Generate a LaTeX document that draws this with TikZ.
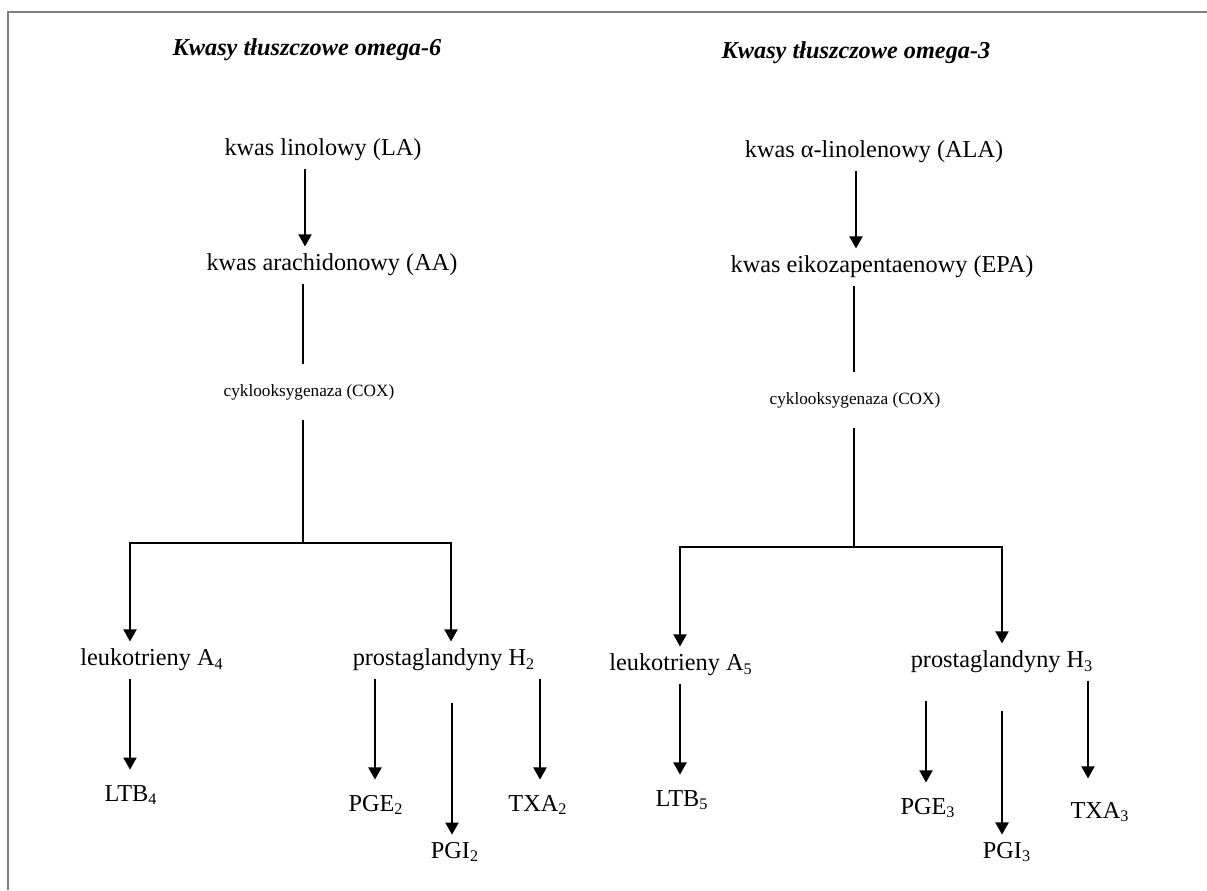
\documentclass[tikz,border=0pt]{standalone}
\usepackage{fontspec}
\setmainfont{Liberation Serif}
\usepackage{tikz}
\usetikzlibrary{arrows.meta, positioning}
\definecolor{framegray}{RGB}{128,128,128}

\begin{document}
\begin{tikzpicture}[
    x=0.494pt, y=-0.494pt,
    acid/.style={inner sep=3.5pt, font=\fontsize{12}{14}\selectfont},
    enzyme/.style={inner xsep=2pt, inner ysep=10pt, font=\fontsize{8.5}{10}\selectfont},
    family title/.style={inner sep=2pt, font=\fontsize{12}{14}\selectfont\bfseries\itshape},
    flow/.style={-{Triangle[length=6pt, width=6.5pt]}, line width=0.9pt},
    link/.style={line width=0.9pt},
    frame line/.style={framegray, line width=1.1pt}
]
    \useasboundingbox (0,0) rectangle (1207,890);
    \draw[frame line] (8,890) -- (8,12) -- (1207,12);

    % Omega-6
    \node[family title] (t6) at (307,50) {Kwasy tłuszczowe omega-6};
    \node[acid] (la) at (323,150) {kwas linolowy (LA)};
    \node[acid] (aa) at (332,265) {kwas arachidonowy (AA)};
    \node[enzyme] (cox6) at (309,392) {cyklooksygenaza (COX)};
    \node[acid] (lta4) at (152,660) {leukotrieny A\textsubscript{4}};
    \node[acid] (ph2) at (444,660) {prostaglandyny H\textsubscript{2}};
    \node[acid] (ltb4) at (131,795) {LTB\textsubscript{4}};
    \node[acid] (pge2) at (376,805) {PGE\textsubscript{2}};
    \node[acid] (pgi2) at (455,852) {PGI\textsubscript{2}};
    \node[acid] (txa2) at (538,805) {TXA\textsubscript{2}};

    \coordinate (axis6) at (305,0);
    \coordinate (fork6) at (303,543);
    \coordinate (lt6) at (130,0);
    \coordinate (pg6) at (451,0);

    \draw[flow] (la.south -| axis6) -- (aa.north -| axis6);
    \draw[link] (aa.south -| fork6) -- (cox6.north -| fork6);
    \draw[link] (cox6.south -| fork6) -- (fork6);
    \draw[flow] (fork6) -| (lta4.north -| lt6);
    \draw[flow] (fork6) -| (ph2.north -| pg6);
    \draw[flow, shorten >=4pt] (lta4.south -| lt6) -- (ltb4.north -| lt6);
    \draw[flow, shorten >=4pt] (ph2.south -| 375,0) -- (pge2.north -| 375,0);
    \draw[flow, shorten <=12pt] (ph2.south -| 452,0) -- (pgi2.north -| 452,0);
    \draw[flow, shorten >=4pt] (ph2.south -| 540,0) -- (txa2.north -| 540,0);

    % Omega-3
    \node[family title] (t3) at (856,53) {Kwasy tłuszczowe omega-3};
    \node[acid] (ala) at (874,152) {kwas α-linolenowy (ALA)};
    \node[acid] (epa) at (882,267) {kwas eikozapentaenowy (EPA)};
    \node[enzyme] (cox3) at (855,400) {cyklooksygenaza (COX)};
    \node[acid] (lta5) at (681,665) {leukotrieny A\textsubscript{5}};
    \node[acid] (ph3) at (1002,662) {prostaglandyny H\textsubscript{3}};
    \node[acid] (ltb5) at (682,800) {LTB\textsubscript{5}};
    \node[acid] (pge3) at (928,808) {PGE\textsubscript{3}};
    \node[acid] (pgi3) at (1007,852) {PGI\textsubscript{3}};
    \node[acid] (txa3) at (1100,812) {TXA\textsubscript{3}};

    \coordinate (axis3) at (856,0);
    \coordinate (fork3) at (854,547);
    \coordinate (lt3) at (680,0);
    \coordinate (pg3) at (1002,0);

    \draw[flow] (ala.south -| axis3) -- (epa.north -| axis3);
    \draw[link] (epa.south -| fork3) -- (cox3.north -| fork3);
    \draw[link] (cox3.south -| fork3) -- (fork3);
    \draw[flow] (fork3) -| (lta5.north -| lt3);
    \draw[flow] (fork3) -| (ph3.north -| pg3);
    \draw[flow, shorten >=4pt] (lta5.south -| lt3) -- (ltb5.north -| lt3);
    \draw[flow, shorten <=10pt, shorten >=4pt] (ph3.south -| 926,0) -- (pge3.north -| 926,0);
    \draw[flow, shorten <=15pt] (ph3.south -| pg3) -- (pgi3.north -| pg3);
    \draw[flow, shorten >=8pt] (ph3.south -| 1088,0) -- (txa3.north -| 1088,0);
\end{tikzpicture}
\end{document}
